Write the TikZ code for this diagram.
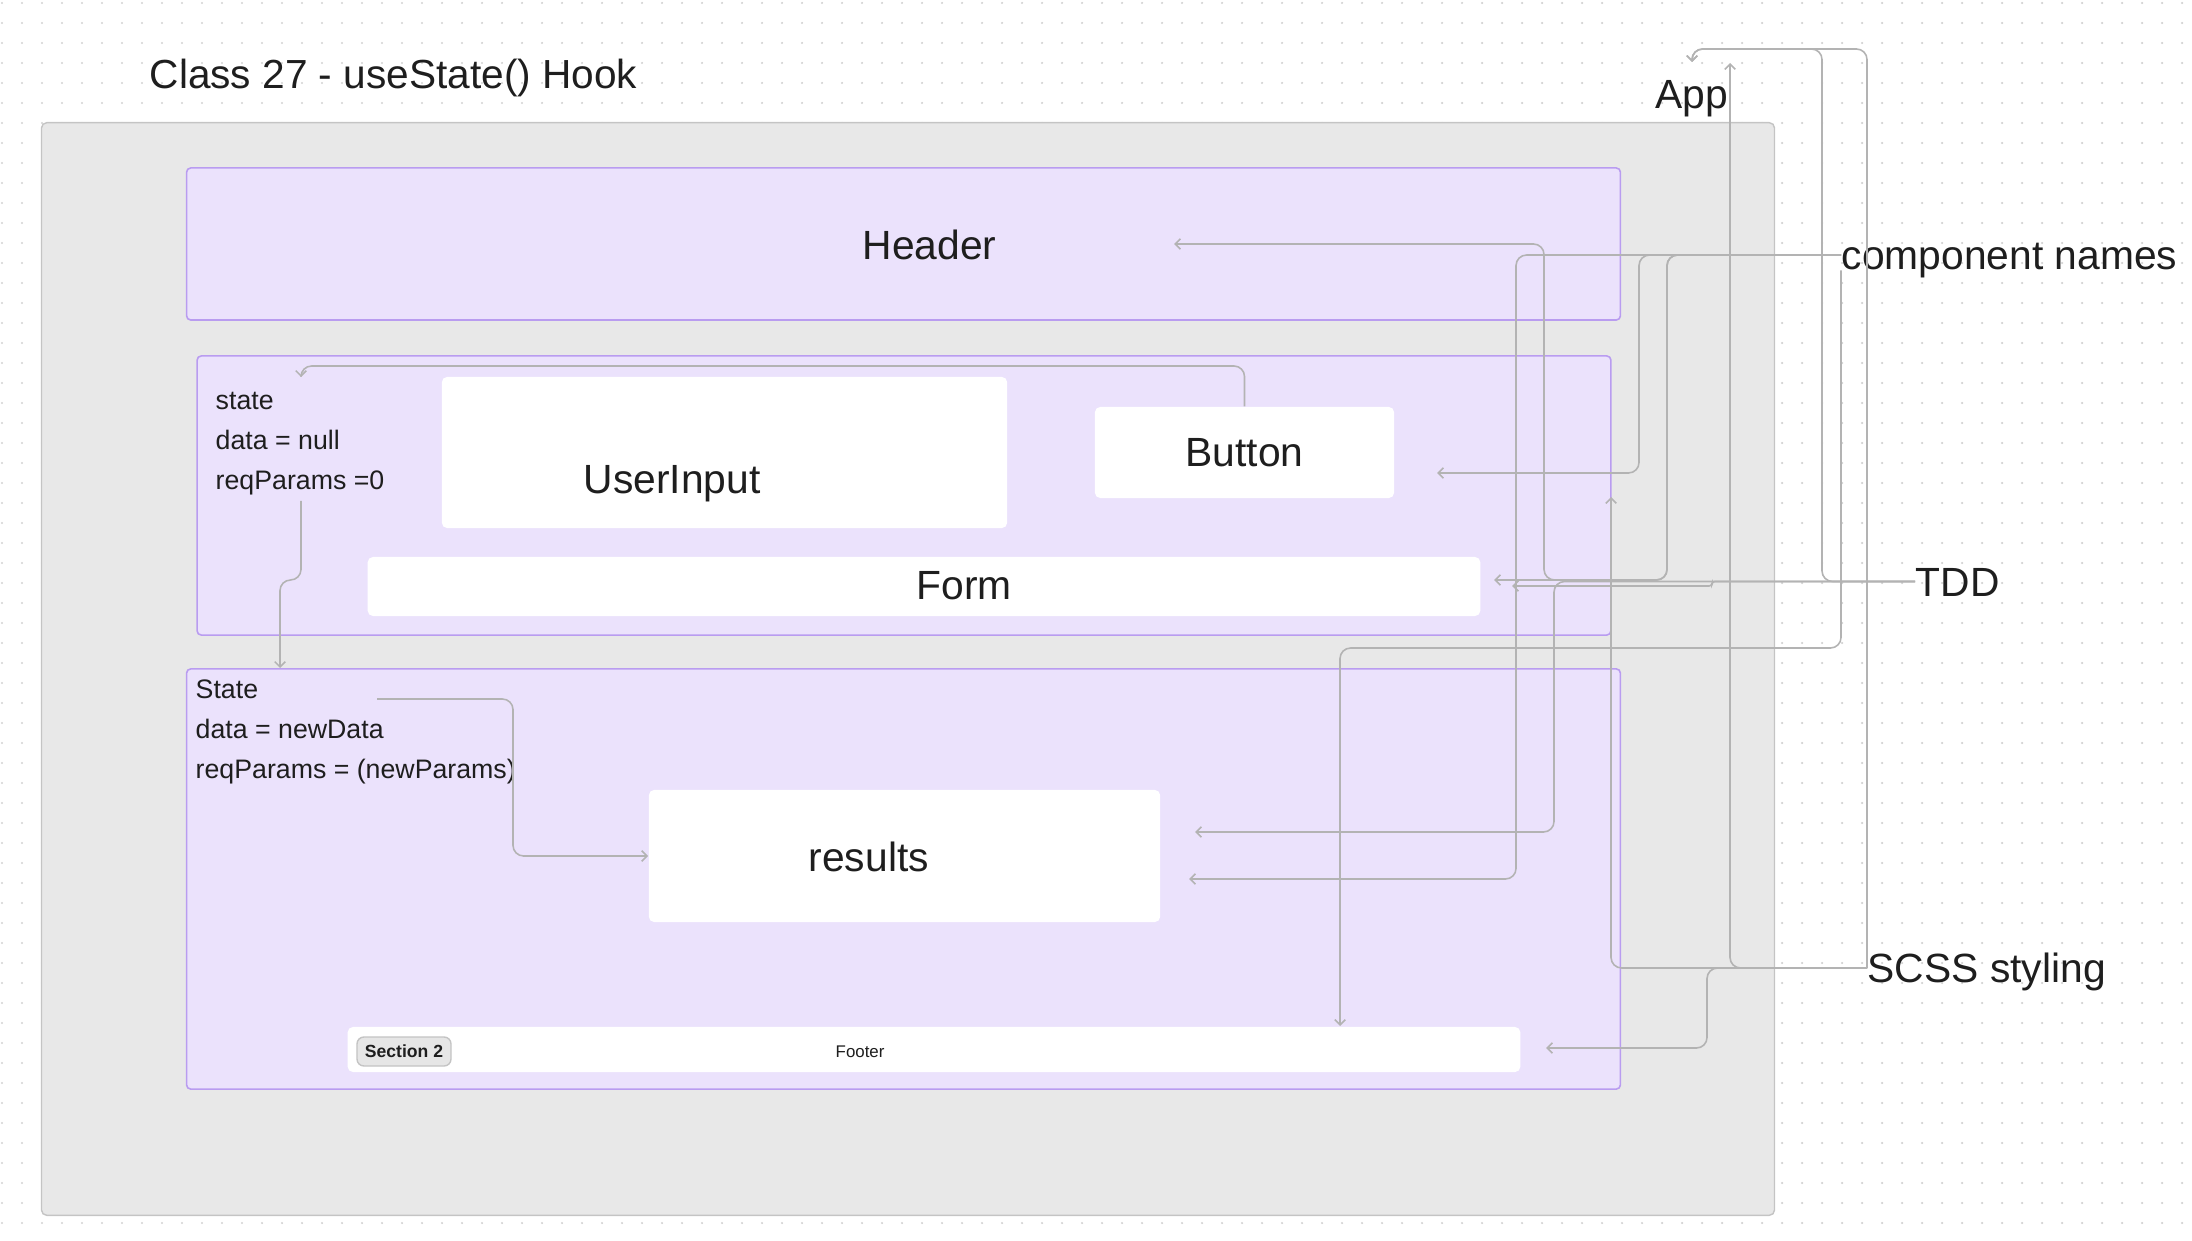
\documentclass[tikz,border=0pt]{standalone}
\usepackage{fontspec}
\setmainfont{Liberation Sans}
\usetikzlibrary{arrows.meta}

\definecolor{appgray}{HTML}{E8E8E8}
\definecolor{appline}{HTML}{C4C4C4}
\definecolor{lilac}{HTML}{EBE2FC}
\definecolor{lilacline}{HTML}{B99CF0}
\definecolor{wire}{HTML}{B3B3B3}
\definecolor{ink}{HTML}{1E1E1E}
\definecolor{dotgray}{HTML}{D2D2D2}
\definecolor{taggray}{HTML}{E6E6E6}

\begin{document}
\begin{tikzpicture}[x=0.01cm,y=-0.01cm]
\tikzset{
  framebox/.style={draw=appline,fill=appgray,line width=0.4pt,rounded corners=1.5pt,inner sep=0pt},
  compbox/.style={draw=lilacline,fill=lilac,line width=0.45pt,rounded corners=1.2pt,inner sep=0pt},
  whitebox/.style={fill=white,rounded corners=1.5pt,inner sep=0pt},
  tagbox/.style={draw=appline,fill=taggray,line width=0.4pt,rounded corners=2pt,inner sep=0pt,text=ink,font=\bfseries\fontsize{5}{6}\selectfont},
  bigtext/.style={inner sep=0pt,anchor=base west,text=ink,font=\fontsize{11.6}{14}\selectfont},
  smalltext/.style={inner sep=0pt,anchor=base west,text=ink,font=\fontsize{7.6}{9}\selectfont},
  sidelabel/.style={inner sep=0pt,anchor=west,text=ink,text height=8.3pt,text depth=0pt,font=\fontsize{11.6}{14}\selectfont},
  directed/.style={-{Straight Barb[length=1.5pt,width=3pt]},draw=wire,line width=0.45pt,rounded corners=3pt}
}
\useasboundingbox (0,0) rectangle (2192,1240);
\foreach \i in {0,...,109}
  \foreach \j in {0,...,61}
    \fill[dotgray] (2+20*\i,3+20*\j) circle (0.35pt);

\node[framebox,minimum width=17.32cm,minimum height=10.92cm] (n_app) at (908,669) {};
\node[compbox,minimum width=14.33cm,minimum height=1.52cm] (n_header) at (903.5,244) {};
\node[compbox,minimum width=14.13cm,minimum height=2.79cm] (n_form) at (904,495.5) {};
\node[compbox,minimum width=14.33cm,minimum height=4.20cm] (n_section) at (903.5,879) {};
\node[whitebox,minimum width=5.65cm,minimum height=1.51cm] (n_userinput) at (724.5,452.5) {};
\node[whitebox,minimum width=2.99cm,minimum height=0.91cm] (n_button) at (1244.5,452.5) {};
\node[whitebox,minimum width=11.12cm,minimum height=0.59cm] (n_formbar) at (924,586.5) {};
\node[whitebox,minimum width=5.11cm,minimum height=1.32cm] (n_results) at (904.5,856) {};
\node[whitebox,minimum width=11.72cm,minimum height=0.45cm] (n_footer) at (934,1049.5) {};
\node[tagbox,minimum width=0.94cm,minimum height=0.29cm] (n_tag) at (404,1051.5) {Section 2};

\node[bigtext,font=\fontsize{11.55}{14}\selectfont] (n_title) at (149,89) {Class 27 - useState() Hook};
\node[bigtext] (n_header_t) at (862,260) {Header};
\node[bigtext] (n_userinput_t) at (583,494) {UserInput};
\node[bigtext] (n_button_t) at (1185,467) {Button};
\node[bigtext] (n_formbar_t) at (916,600) {Form};
\node[bigtext] (n_results_t) at (808,871) {results};
\node[smalltext] (n_st_a) at (215,410) {state};
\node[smalltext] (n_st_b) at (215,449) {data = null};
\node[smalltext] (n_st_c) at (215,489) {reqParams =0};
\node[smalltext] (n_ns_a) at (195,698) {State};
\node[smalltext] (n_ns_b) at (195,738) {data = newData};
\node[smalltext] (n_ns_c) at (195,778) {reqParams = (newParams)};
\node[smalltext,font=\fontsize{4.8}{6}\selectfont] (n_footer_t) at (835,1057) {Footer};
\node[sidelabel] (n_app_t) at (1655,93.5) {App};
\node[sidelabel] (n_names) at (1841,255) {component names};
\node[sidelabel] (n_tdd) at (1915,581.5) {TDD};
\node[sidelabel] (n_scss) at (1867,968) {SCSS styling};

\coordinate (c_app_bar) at (1692,49);
\coordinate (c_app_top) at (1692,62);
\coordinate (c_app_low) at (1730,63);
\coordinate (c_header_in) at (1174,244);
\coordinate (c_button_in) at (1437,473);
\coordinate (c_formbar_in) at (1494,580);
\coordinate (c_formbar_in2) at (1512,586);
\coordinate (c_form_in) at (1611,497);
\coordinate (c_results_in) at (1195,832);
\coordinate (c_results_in2) at (1189,879);
\coordinate (c_footer_in) at (1546,1048);
\coordinate (c_footer_top) at (1340,1026);
\coordinate (c_state_in) at (301,377);
\coordinate (c_state_out) at (301,501);
\coordinate (c_section_in) at (280,668);
\coordinate (c_newstate_out) at (377,699);

\draw[directed] (n_button.north) -- (1244.5,366) -- (301,366) -- (c_state_in);
\draw[directed] (c_state_out) -- (301,580) -- (280,580) -- (c_section_in);
\draw[directed] (c_newstate_out) -- (513,699) -- (513,856) -- (n_results.west);
\draw[directed] (n_names.west) -- (1667,255) -- (1667,580) -- (1544,580) -- (1544,244) -- (c_header_in);
\draw[directed] (n_names.west) -- (1667,255) -- (1667,580) -- (c_formbar_in);
\draw[directed] (n_names.west) -- (1639,255) -- (1639,473) -- (c_button_in);
\draw[directed] (n_names.west) -- (1516,255) -- (1516,879) -- (c_results_in2);
\draw[directed] (n_names.south west) -- (1841,648) -- (1340,648) -- (c_footer_top);
\draw[directed] (n_tdd.west) -- (1822,581.5) -- (1822,49) -- (c_app_bar) -- (c_app_top);
\draw[directed,rounded corners=0.8pt] (n_tdd.west) -- (1712,581.5) -- (1712,586) -- (c_formbar_in2);
\draw[directed] (n_tdd.west) -- (1554,581.5) -- (1554,832) -- (c_results_in);
\draw[directed] (n_scss.west) -- (n_scss.west |- c_app_bar) -- (c_app_bar) -- (c_app_top);
\draw[directed] (n_scss.west) -- (1730,968) -- (c_app_low);
\draw[directed] (n_scss.west) -- (1611,968) -- (c_form_in);
\draw[directed] (n_scss.west) -- (1707,968) -- (1707,1048) -- (c_footer_in);
\end{tikzpicture}
\end{document}
